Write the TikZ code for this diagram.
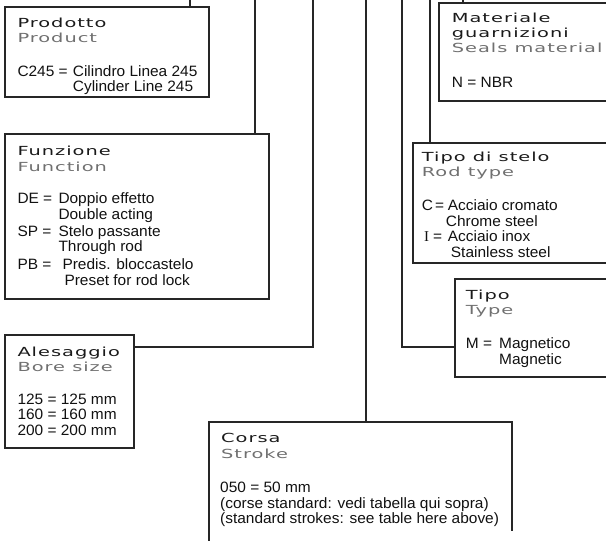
\documentclass[tikz,border=0pt]{standalone}
\usepackage{fontspec}
\usetikzlibrary{calc}
\setmainfont{Liberation Sans}[FakeStretch=1.03]
\newfontfamily\tfont{DejaVu Sans}[FakeStretch=1.55,LetterSpace=8]
\newfontfamily\serifI{Liberation Serif}
\definecolor{boxc}{HTML}{262626}
\definecolor{titlec}{HTML}{1A1A1A}
\definecolor{subc}{HTML}{707070}
\definecolor{itemc}{HTML}{111111}
\tikzset{
  box/.style={draw=boxc, line width=1.2pt, inner sep=0pt, outer sep=0pt, anchor=north west},
  ghost/.style={inner sep=0pt, outer sep=0pt, anchor=north west},
  conn/.style={draw=boxc, line width=1.2pt},
  ttl/.style={anchor=base west, inner sep=0pt, font=\tfont\fontsize{12.5}{15}\selectfont, text=titlec},
  sub/.style={ttl, text=subc},
  itm/.style={anchor=base west, inner sep=0pt, font=\fontsize{15}{16}\selectfont, text=itemc},
  itmI/.style={itm, font=\serifI\fontsize{15}{16}\selectfont},
}
\begin{document}
\begin{tikzpicture}[x=1pt,y=-1pt]
\useasboundingbox (0,0) rectangle (606,541);
\clip (0,0) rectangle (606,541);
% boxes
\node[box, minimum width=204pt, minimum height=90pt] (prod) at (5,7) {};
\node[box, minimum width=264pt, minimum height=165pt] (funz) at (5,134) {};
\node[box, minimum width=129pt, minimum height=113pt] (ales) at (5,335) {};
\node[ghost, minimum width=303pt, minimum height=119pt] (corsa) at (209,422) {};
\draw[conn] (corsa.south west) -- (corsa.north west) -- (corsa.north east) -- ($(corsa.north east)+(0,109)$);
\node[box, minimum width=190pt, minimum height=98pt] (mat) at (439,3) {};
\node[box, minimum width=210pt, minimum height=120pt] (stelo) at (413,143) {};
\node[box, minimum width=170pt, minimum height=98pt] (tipo) at (455,279) {};
% connector tops
\coordinate (c1) at (190,0);
\coordinate (c2) at (255,0);
\coordinate (c3) at (313,0);
\coordinate (c4) at (366,0);
\coordinate (c5) at (402,0);
\coordinate (c6) at (430,0);
\coordinate (c7) at (463,0);
\coordinate (j3) at (313,347);
\coordinate (j5) at (402,347);
\draw[conn] (c1) -- (c1 |- prod.north);
\draw[conn] (c2) -- (c2 |- funz.north);
\draw[conn] (c3) -- (j3) -- (j3 -| ales.east);
\draw[conn] (c4) -- (c4 |- corsa.north);
\draw[conn] (c5) -- (j5) -- (j5 -| tipo.west);
\draw[conn] (c6) -- (c6 |- stelo.north);
\draw[conn] (c7) -- (c7 |- mat.north);
% Prodotto
\node[ttl] (pt1) at (17.3,27.3) {Prodotto};
\node[sub] (pt2) at (17.3,42.3) {Product};
\node[itm] (pa) at (17.3,76) {C245 =};
\node[itm] (pb) at (72.7,76) {Cilindro Linea 245};
\node[itm] (pc) at (72.7,91.5) {Cylinder Line 245};
% Funzione
\node[ttl] (ft1) at (17.3,155.5) {Funzione};
\node[sub] (ft2) at (17.3,171) {Function};
\node[itm] (fa) at (17.3,203) {DE =};
\node[itm] (fb) at (58.3,203) {Doppio effetto};
\node[itm] (fc) at (58.3,219) {Double acting};
\node[itm] (fd) at (17.3,236) {SP =};
\node[itm] (fe) at (58.3,236) {Stelo passante};
\node[itm] (ff) at (58.3,251.5) {Through rod};
\node[itm] (fg) at (17.3,269) {PB =};
\node[itm] (fh) at (62.3,269) {Predis. bloccastelo};
\node[itm] (fi) at (64.3,285.7) {Preset for rod lock};
% Alesaggio
\node[ttl] (at1) at (17.3,356.5) {Alesaggio};
\node[sub] (at2) at (17.3,371.7) {Bore size};
\node[itm] (aa) at (17.3,404) {125 = 125 mm};
\node[itm] (ab) at (17.3,419.5) {160 = 160 mm};
\node[itm] (ac) at (17.3,435) {200 = 200 mm};
% Corsa
\node[ttl] (ct1) at (221,442.7) {Corsa};
\node[sub] (ct2) at (221,458) {Stroke};
\node[itm] (ca) at (220,492.7) {050 = 50 mm};
\node[itm] (cb) at (220,508) {(corse standard: vedi tabella qui sopra)};
\node[itm] (cc) at (220,523.5) {(standard strokes: see table here above)};
% Materiale
\node[ttl] (mt1) at (451.7,22.7) {Materiale};
\node[ttl] (mt2) at (451.7,37.5) {guarnizioni};
\node[sub] (mt3) at (451.7,52.5) {Seals material};
\node[itm] (ma) at (451.7,87.3) {N = NBR};
% Tipo di stelo
\node[ttl] (st1) at (421.7,161.7) {Tipo di stelo};
\node[sub] (st2) at (421.7,176.7) {Rod type};
\node[itm] (sa) at (421.7,210) {C};
\node[itm] (sa2) at (435,210) {=};
\node[itm] (sb) at (447.7,210) {Acciaio cromato};
\node[itm] (sc) at (445.7,226.7) {Chrome steel};
\node[itmI] (sd) at (424,241) {I};
\node[itm] (se) at (433,241) {=};
\node[itm] (sf) at (447.7,241) {Acciaio inox};
\node[itm] (sg) at (450.7,257.7) {Stainless steel};
% Tipo
\node[ttl] (tt1) at (465.7,299.5) {Tipo};
\node[sub] (tt2) at (465.7,314.5) {Type};
\node[itm] (ta) at (465.7,348.5) {M =};
\node[itm] (tb) at (499,348.5) {Magnetico};
\node[itm] (tc) at (499,364) {Magnetic};
\end{tikzpicture}
\end{document}
